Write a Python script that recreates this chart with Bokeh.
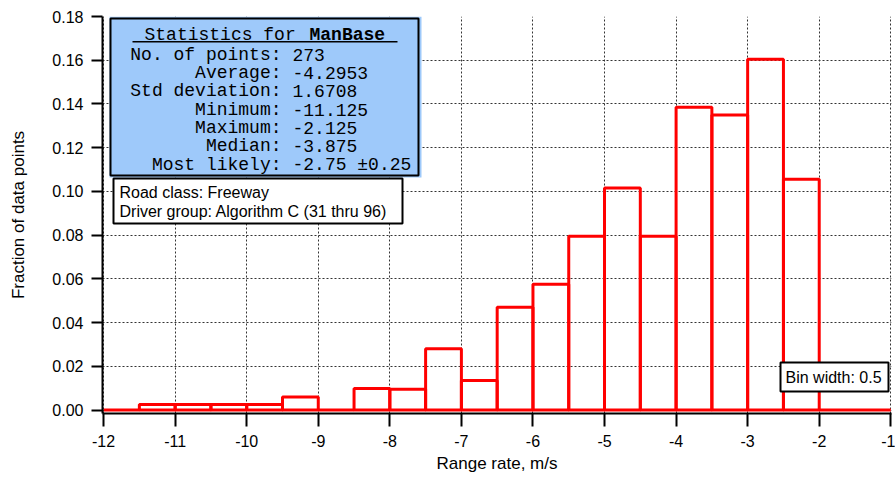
import math
from bokeh.plotting import figure
from bokeh.models import Range1d, FixedTicker, PrintfTickFormatter, Label, BoxAnnotation
from bokeh.embed import file_html
from bokeh.resources import INLINE

# ---------------- data ----------------
bin_left = [-12.0, -11.5, -11.0, -10.5, -10.0, -9.5, -9.0, -8.5, -8.0, -7.5, -7.0,
            -6.5, -6.0, -5.5, -5.0, -4.5, -4.0, -3.5, -3.0, -2.5, -2.0, -1.5]
bin_right = [-11.5, -11.0, -10.5, -10.0, -9.5, -9.0, -8.5, -8.0, -7.5, -7.0, -6.5,
             -6.0, -5.5, -5.0, -4.5, -4.0, -3.5, -3.0, -2.5, -2.0, -1.5, -1.0]
fraction = [0.0, 0.0025, 0.0025, 0.0025, 0.0025, 0.006, 0.0, 0.0098, 0.0095, 0.028, 0.0135,
            0.047, 0.0575, 0.0795, 0.1015, 0.0795, 0.1385, 0.135, 0.1605, 0.1055, 0.0, 0.0]

x_ticks = [-12, -11, -10, -9, -8, -7, -6, -5, -4, -3, -2, -1]
y_ticks = [0.0, 0.02, 0.04, 0.06, 0.08, 0.10, 0.12, 0.14, 0.16, 0.18]

stats_title = "Statistics for "
stats_name = "ManBase"
stats_labels = ["No. of points:", "Average:", "Std deviation:", "Minimum:",
                "Maximum:", "Median:", "Most likely:"]
stats_values = ["273", "-4.2953", "1.6708", "-11.125", "-2.125", "-3.875", "-2.75 \u00b10.25"]
info_lines = ["Road class: Freeway", "Driver group: Algorithm C (31 thru 96)"]
bin_text = "Bin width: 0.5"

# ---------------- layout ----------------
X0, X1 = -12.015, -0.99
Y0, Y1 = -0.0016, 0.18
FL, FT, FW, FH = 103, 17, 789, 397
MONO_DY = -5.0   # empirical baseline correction (px)
SANS_DY = -6.0


def xd(px):
    return X0 + (px - FL) * (X1 - X0) / FW


def yd(py):
    return Y1 - (py - FT) * (Y1 - Y0) / FH


SANS = "Liberation Sans"
MONO = "Liberation Mono"

p = figure(frame_width=FW, frame_height=FH,
           x_range=Range1d(X0, X1), y_range=Range1d(Y0, Y1),
           output_backend="svg", toolbar_location=None,
           min_border_left=102, min_border_top=16, min_border_right=4, min_border_bottom=60,
           background_fill_color="white", border_fill_color="white",
           outline_line_color=None)

for ax in (p.xaxis[0], p.yaxis[0]):
    ax.axis_line_width = 2
    ax.axis_line_color = "black"
    ax.major_tick_line_width = 2
    ax.major_tick_line_color = "black"
    ax.major_tick_in = 0
    ax.minor_tick_line_color = None
    ax.major_label_text_font = SANS
    ax.major_label_text_font_size = "16px"
    ax.major_label_text_color = "black"
    ax.axis_label_text_font = SANS
    ax.axis_label_text_font_style = "normal"
    ax.axis_label_text_color = "black"

p.xaxis.ticker = FixedTicker(ticks=x_ticks)
p.xaxis.formatter = PrintfTickFormatter(format="%d")
p.xaxis.major_tick_out = 13
p.xaxis.major_label_standoff = 8
p.xaxis.axis_label = "Range rate, m/s"
p.xaxis.axis_label_text_font_size = "17px"
p.xaxis.axis_label_standoff = 4

p.yaxis.ticker = FixedTicker(ticks=y_ticks)
p.yaxis.formatter = PrintfTickFormatter(format="%.2f")
p.yaxis.major_tick_out = 11
p.yaxis.major_label_standoff = 8
p.yaxis.axis_label = "Fraction of data points"
p.yaxis.axis_label_text_font_size = "17px"
p.yaxis.axis_label_standoff = 21

for g in (p.xgrid[0], p.ygrid[0]):
    g.grid_line_color = "#333333"
    g.grid_line_dash = "2 2"
    g.grid_line_width = 1

p.quad(left=bin_left, right=bin_right, bottom=0, top=fraction,
       fill_color=None, line_color="#ff0000", line_width=3)

# statistics box
BLUE = "#9ec9fa"
p.add_layout(BoxAnnotation(left=xd(110), right=xd(422), top=yd(17), bottom=yd(178),
                           fill_color=BLUE, fill_alpha=1, line_color=None))
p.add_layout(BoxAnnotation(left=xd(111), right=xd(419), top=yd(19), bottom=yd(176),
                           fill_color=BLUE, fill_alpha=1, line_color="black",
                           line_alpha=1, line_width=2))
p.add_layout(BoxAnnotation(left=xd(133), right=xd(398), top=yd(41.5), bottom=yd(43),
                           fill_color="black", fill_alpha=1, line_color=None))
p.add_layout(Label(x=xd(145), y=yd(40.5 + MONO_DY), text=stats_title, text_align="left",
                   text_baseline="alphabetic", text_font=MONO, text_font_size="18px",
                   text_color="black"))
p.add_layout(Label(x=xd(310), y=yd(40.5 + MONO_DY), text=stats_name, text_align="left",
                   text_baseline="alphabetic", text_font=MONO, text_font_size="18px",
                   text_font_style="bold", text_color="black"))
row_base = [60, 78.3, 96.7, 115, 133.3, 151.7, 170]
for lab, val, by in zip(stats_labels, stats_values, row_base):
    p.add_layout(Label(x=xd(282), y=yd(by + MONO_DY), text=lab, text_align="right",
                       text_baseline="alphabetic", text_font=MONO, text_font_size="18px",
                       text_color="black"))
    p.add_layout(Label(x=xd(293), y=yd(by + MONO_DY), text=val, text_align="left",
                       text_baseline="alphabetic", text_font=MONO, text_font_size="18px",
                       text_color="black"))

# info box
p.add_layout(BoxAnnotation(left=xd(114), right=xd(403), top=yd(179), bottom=yd(224),
                           fill_color="white", fill_alpha=1, line_color="black",
                           line_alpha=1, line_width=2))
for txt, by in zip(info_lines, [199.3, 217.5]):
    p.add_layout(Label(x=xd(120), y=yd(by + SANS_DY), text=txt, text_align="left",
                       text_baseline="alphabetic", text_font=SANS, text_font_size="16px",
                       text_color="black"))

# bin width box
p.add_layout(BoxAnnotation(left=xd(781), right=xd(889), top=yd(363), bottom=yd(392),
                           fill_color="white", fill_alpha=1, line_color="black",
                           line_alpha=1, line_width=2))
p.add_layout(Label(x=xd(786), y=yd(383.5 + SANS_DY), text=bin_text, text_align="left",
                   text_baseline="alphabetic", text_font=SANS, text_font_size="16px",
                   text_color="black"))

open("out.html", "w").write(file_html(p, INLINE))
